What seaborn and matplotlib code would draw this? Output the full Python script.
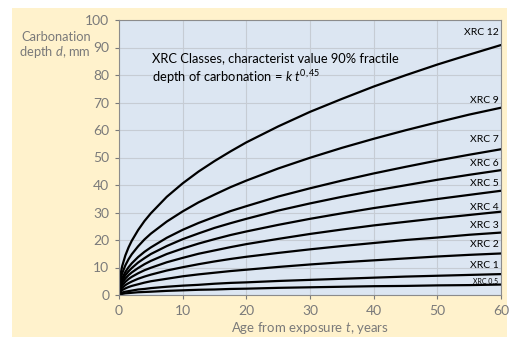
import matplotlib
matplotlib.use("Agg")
import matplotlib.pyplot as plt
from matplotlib.patches import Rectangle
import seaborn as sns
import pandas as pd

# Age from exposure (years)
t_years = [0, 0.25, 0.5, 1, 1.5, 2, 3, 4, 5, 7.5, 10, 12.5, 15, 17.5, 20,
           25, 30, 35, 40, 45, 50, 55, 60]

# Carbonation depth (mm)
xrc_0_5 = [0, 0.3, 0.4, 0.6, 0.7, 0.8, 1.0, 1.1, 1.2, 1.5, 1.7, 1.9, 2.0, 2.2, 2.3,
           2.6, 2.8, 3.0, 3.2, 3.3, 3.5, 3.6, 3.8]
xrc_1 = [0, 0.6, 0.9, 1.2, 1.4, 1.6, 2.0, 2.2, 2.5, 3.0, 3.4, 3.7, 4.1, 4.4, 4.6,
         5.1, 5.5, 5.9, 6.3, 6.7, 7.0, 7.3, 7.6]
xrc_2 = [0, 1.3, 1.8, 2.4, 2.9, 3.3, 3.9, 4.5, 5.0, 5.9, 6.8, 7.5, 8.1, 8.7, 9.2,
         10.2, 11.1, 11.9, 12.6, 13.3, 14.0, 14.6, 15.1]
xrc_3 = [0, 1.9, 2.6, 3.6, 4.3, 4.9, 5.9, 6.7, 7.4, 8.9, 10.1, 11.2, 12.2, 13.1, 13.9,
         15.3, 16.6, 17.8, 18.9, 20.0, 20.9, 21.9, 22.7]
xrc_4 = [0, 2.6, 3.5, 4.8, 5.8, 6.6, 7.9, 9.0, 9.9, 11.9, 13.5, 15.0, 16.2, 17.4, 18.5,
         20.4, 22.2, 23.8, 25.3, 26.6, 27.9, 29.1, 30.3]
xrc_5 = [0, 3.2, 4.4, 6.0, 7.2, 8.2, 9.8, 11.2, 12.4, 14.9, 16.9, 18.7, 20.3, 21.8, 23.1,
         25.5, 27.7, 29.7, 31.6, 33.3, 34.9, 36.4, 37.9]
xrc_6 = [0, 3.9, 5.3, 7.2, 8.6, 9.8, 11.8, 13.4, 14.9, 17.8, 20.3, 22.4, 24.4, 26.1, 27.7,
         30.7, 33.3, 35.7, 37.9, 39.9, 41.9, 43.7, 45.4]
xrc_7 = [0, 4.5, 6.1, 8.4, 10.1, 11.5, 13.8, 15.7, 17.3, 20.8, 23.7, 26.2, 28.4, 30.5, 32.3,
         35.8, 38.8, 41.6, 44.2, 46.6, 48.9, 51.0, 53.0]
xrc_9 = [0, 5.8, 7.9, 10.8, 13.0, 14.8, 17.7, 20.2, 22.3, 26.7, 30.4, 33.7, 36.5, 39.2, 41.6,
         46.0, 49.9, 53.5, 56.8, 59.9, 62.8, 65.6, 68.1]
xrc_12 = [0, 7.7, 10.5, 14.4, 17.3, 19.7, 23.6, 26.9, 29.7, 35.7, 40.6, 44.9, 48.7, 52.2, 55.5,
          61.3, 66.6, 71.3, 75.8, 79.9, 83.8, 87.4, 90.9]

class_names = ["XRC 0.5", "XRC 1", "XRC 2", "XRC 3", "XRC 4", "XRC 5",
               "XRC 6", "XRC 7", "XRC 9", "XRC 12"]
class_values = [xrc_0_5, xrc_1, xrc_2, xrc_3, xrc_4, xrc_5, xrc_6, xrc_7, xrc_9, xrc_12]
label_y = [4.8, 10.7, 18.2, 25.4, 32.0, 40.7, 48.0, 56.4, 70.9, 95.6]

x_ticks = [0, 10, 20, 30, 40, 50, 60]
y_ticks = [0, 10, 20, 30, 40, 50, 60, 70, 80, 90, 100]

rows = []
for name, vals in zip(class_names, class_values):
    for t, d in zip(t_years, vals):
        rows.append({"t": t, "d": d, "cls": name})
df = pd.DataFrame(rows)

sns.set_theme(style="white")
plt.rcParams["font.family"] = ["Lato", "DejaVu Sans"]
plt.rcParams["mathtext.fontset"] = "custom"
plt.rcParams["mathtext.rm"] = "Lato"
plt.rcParams["mathtext.it"] = "Lato:italic"

gray = "#7a7a7a"
fig = plt.figure(figsize=(5.09, 3.37), dpi=100)
fig.patch.set_facecolor("white")
bg = Rectangle((12 / 509, 0), (507 - 12) / 509, (337 - 8) / 337,
               transform=fig.transFigure, facecolor="#fff2cc",
               edgecolor="none", zorder=-10)
fig.patches.append(bg)
ax = fig.add_axes([119 / 509, 1 - 295 / 337, (501 - 119) / 509, (295 - 20) / 337])
ax.set_zorder(5)
ax.set_facecolor("#dce6f2")

sns.lineplot(data=df, x="t", y="d", hue="cls", hue_order=class_names,
             palette=["black"] * len(class_names), linewidth=1.6,
             legend=False, ax=ax)

ax.set_xlim(0, 60)
ax.set_ylim(0, 100)
ax.set_xticks(x_ticks)
ax.set_yticks(y_ticks)
ax.grid(True, color="#c6ccd4", linewidth=0.8)
ax.set_axisbelow(True)
ax.tick_params(axis="both", colors=gray, labelsize=10, length=3, width=0.8,
               direction="out", left=True, bottom=True, pad=4)
for s in ax.spines.values():
    s.set_color("#8c8c8c")
    s.set_linewidth(0.8)
ax.set_xlabel("Age from exposure $\\it{t}$, years", color=gray, fontsize=9.5, labelpad=2)
ax.set_ylabel("")

fig.text(91 / 509, 1 - 37 / 337, "Carbonation", ha="right", va="center",
         color=gray, fontsize=9.3)
fig.text(91 / 509, 1 - 52 / 337, "depth $\\it{d}$, mm", ha="right", va="center",
         color=gray, fontsize=9.3)

ax.text(5.2, 86.2, "XRC Classes, characterist value 90% fractile",
        ha="left", va="center", fontsize=9.3, color="black")
ax.text(5.2, 79.3, "depth of carbonation = $\\it{k}$ $\\it{t}^{0,45}$",
        ha="left", va="center", fontsize=9.3, color="black")

for name, yl in zip(class_names, label_y):
    fs = 5 if name == "XRC 0.5" else 7.5
    ax.text(59.6, yl, name, ha="right", va="center", fontsize=fs, color="black")

fig.savefig("out.png", dpi=100)
